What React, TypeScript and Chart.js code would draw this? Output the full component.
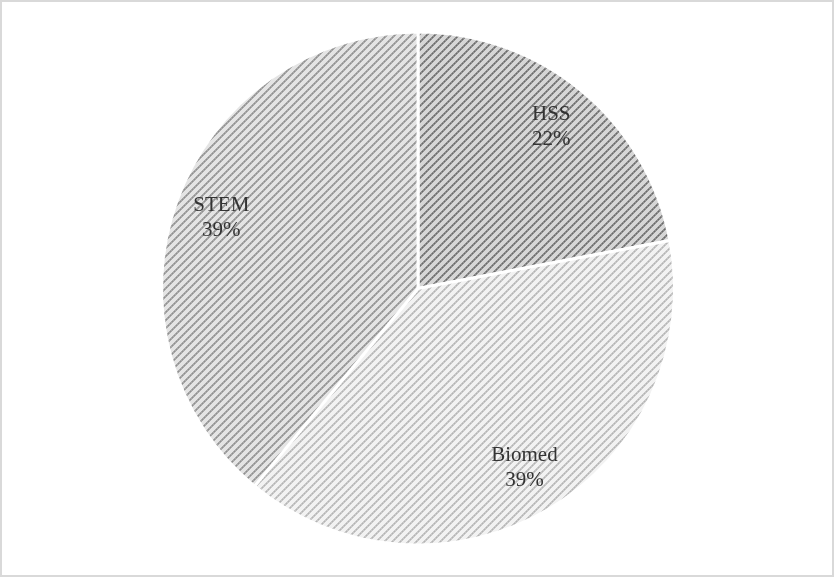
import React, { useEffect, useRef } from "react";
import { Chart, registerables } from "chart.js";

Chart.register(...registerables);

const categories = ["HSS", "Biomed", "STEM"];
const values = [22, 39, 39];
const percentLabels = ["22%", "39%", "39%"];

function makePattern(bg: string, edge: string, core: string): CanvasPattern | string {
  const size = 8;
  const c = document.createElement("canvas");
  c.width = size;
  c.height = size;
  const ctx = c.getContext("2d");
  if (!ctx) return bg;
  ctx.fillStyle = bg;
  ctx.fillRect(0, 0, size, size);
  for (let y = 0; y < size; y++) {
    for (let x = 0; x < size; x++) {
      const d = (x + y) % size;
      if (d === 0 || d === 2) {
        ctx.fillStyle = edge;
        ctx.fillRect(x, y, 1, 1);
      } else if (d === 1) {
        ctx.fillStyle = x % 2 === 0 ? core : edge;
        ctx.fillRect(x, y, 1, 1);
      }
    }
  }
  return ctx.createPattern(c, "repeat") || bg;
}

const labelPlugin = {
  id: "sliceLabels",
  afterDatasetsDraw(chart: any) {
    const ctx = chart.ctx;
    const meta = chart.getDatasetMeta(0);
    ctx.save();
    ctx.font = "21px 'Liberation Serif', 'Times New Roman', serif";
    ctx.fillStyle = "#333333";
    ctx.textAlign = "center";
    ctx.textBaseline = "middle";
    meta.data.forEach((arc: any, i: number) => {
      const p = arc.getProps(["x", "y", "startAngle", "endAngle", "outerRadius"], true);
      const mid = (p.startAngle + p.endAngle) / 2;
      const r = p.outerRadius * 0.815;
      const cx = p.x + Math.cos(mid) * r;
      const cy = p.y + Math.sin(mid) * r;
      ctx.fillText(categories[i], cx, cy - 12.5);
      ctx.fillText(percentLabels[i], cx, cy + 12.5);
    });
    ctx.restore();
  },
};

export default function App() {
  const ref = useRef<HTMLCanvasElement>(null);
  useEffect(() => {
    if (!ref.current) return;
    const colors = [
      makePattern("#d6d6d6", "#8c8c8c", "#6a6a6a"),
      makePattern("#f2f2f2", "#c8c8c8", "#b4b4b4"),
      makePattern("#e4e4e4", "#a8a8a8", "#909090"),
    ];
    const chart = new Chart(ref.current, {
      type: "pie",
      data: {
        labels: categories,
        datasets: [
          {
            data: values,
            backgroundColor: colors as any,
            borderColor: "#ffffff",
            borderWidth: 3,
          },
        ],
      },
      options: {
        responsive: false,
        animation: false,
        layout: { padding: { left: 158, right: 156, top: 28, bottom: 28 } },
        plugins: {
          legend: { display: false },
          tooltip: { enabled: false },
        },
      },
      plugins: [labelPlugin],
    });
    return () => chart.destroy();
  }, []);
  return (
    <div
      style={{
        position: "absolute",
        left: 0,
        top: 0,
        width: 834,
        height: 577,
        boxSizing: "border-box",
        border: "2px solid #d9d9d9",
        background: "#ffffff",
      }}
    >
      <canvas
        ref={ref}
        width={830}
        height={573}
        style={{ display: "block", width: 830, height: 573 }}
      />
    </div>
  );
}
